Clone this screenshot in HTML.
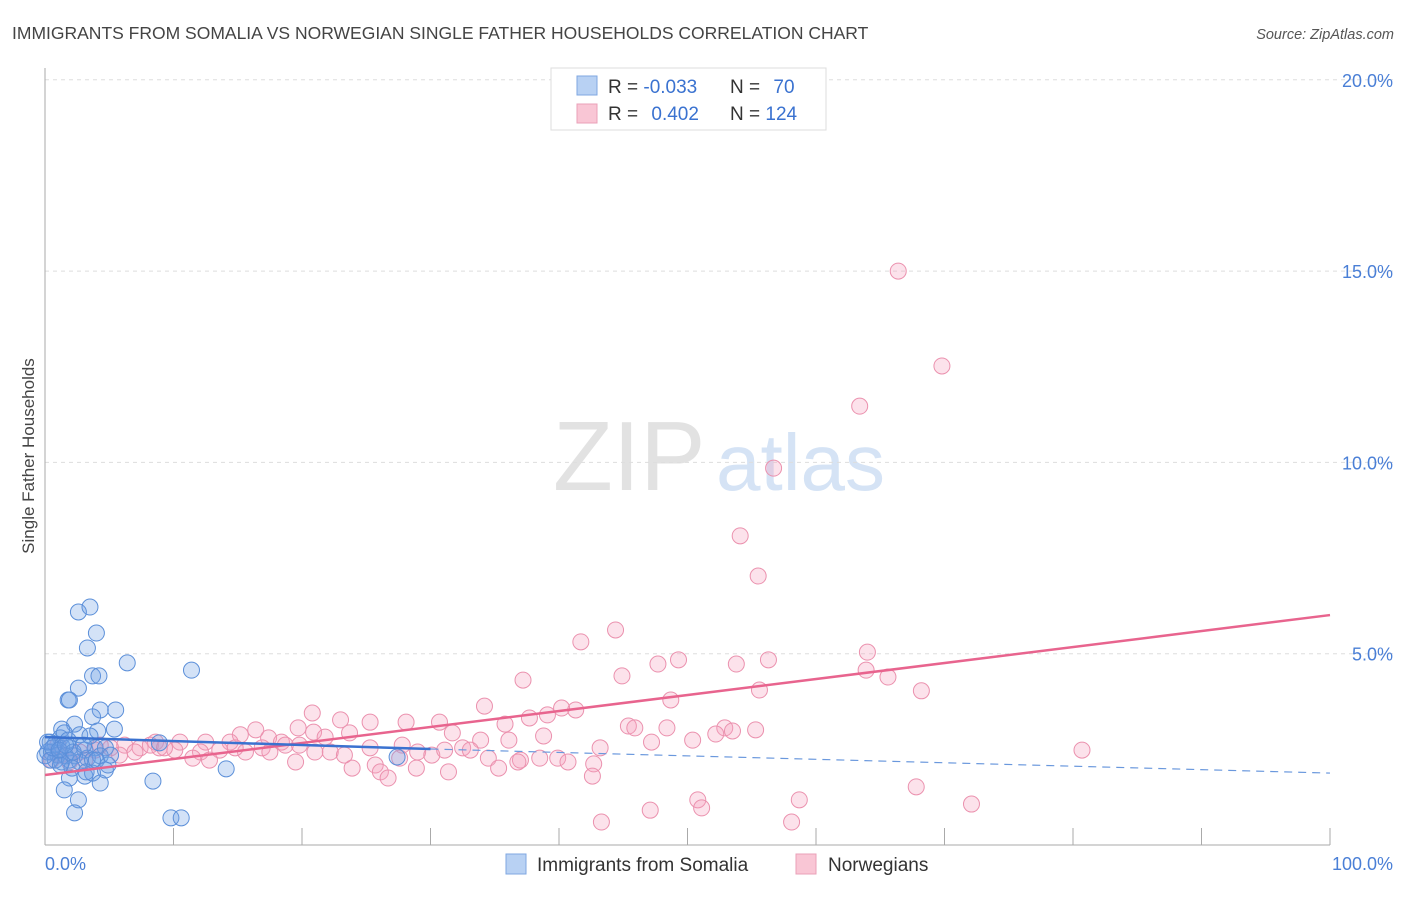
<!DOCTYPE html>
<html><head><meta charset="utf-8"><style>
body{margin:0;background:#fff;font-family:"Liberation Sans",sans-serif}
svg text{font-family:"Liberation Sans",sans-serif}
</style></head><body>
<svg id="chart" width="1406" height="892" viewBox="0 0 1406 892">
<text x="12" y="39" font-size="17.5" fill="#444">IMMIGRANTS FROM SOMALIA VS NORWEGIAN SINGLE FATHER HOUSEHOLDS CORRELATION CHART</text>
<text x="1394" y="39" font-size="14.5" font-style="italic" fill="#555" text-anchor="end">Source: ZipAtlas.com</text>
<g>
<text x="553" y="490" font-size="98" font-family="Liberation Serif" fill="#e2e2e2">ZIP</text>
<text x="716" y="490" font-size="80" fill="#d5e3f5">atlas</text>
</g>
<g id="grid"></g>
<g id="axes"></g>
<text transform="translate(34,456) rotate(-90)" font-size="17" fill="#444" text-anchor="middle">Single Father Households</text>
<g id="pts"></g>
<g id="lines"></g>
<g>
<rect x="551" y="68" width="275" height="62" fill="#fff" stroke="#ddd"/>
<rect x="577" y="76" width="20" height="19" fill="#b8d1f3" stroke="#7fa7e2"/>
<rect x="577" y="104" width="20" height="19" fill="#f9c6d5" stroke="#eaa0b8"/>
<text x="608" y="93" font-size="19" fill="#333">R = <tspan fill="#3a72d0">-0.033</tspan></text>
<text x="730" y="93" font-size="19" fill="#333">N = <tspan fill="#3a72d0" dx="8">70</tspan></text>
<text x="608" y="120" font-size="19" fill="#333">R = <tspan fill="#3a72d0" dx="8">0.402</tspan></text>
<text x="730" y="120" font-size="19" fill="#333">N = <tspan fill="#3a72d0">124</tspan></text>
</g>
<g>
<rect x="506" y="854" width="20" height="20" fill="#b8d1f3" stroke="#7fa7e2"/>
<text x="537" y="871" font-size="19" fill="#333">Immigrants from Somalia</text>
<rect x="796" y="854" width="20" height="20" fill="#f9c6d5" stroke="#eaa0b8"/>
<text x="828" y="871" font-size="19" fill="#333">Norwegians</text>
</g>
</svg>
<script>
const yTicks=[5,10,15,20];
const yTickLabels=["5.0%","10.0%","15.0%","20.0%"];
const xTicks=[0,10,20,30,40,50,60,70,80,90,100];
const xEndLabels=["0.0%","100.0%"];
const blueX=[2.6,3.5,4.0,3.3,6.4,11.4,3.7,4.2,2.6,1.8,1.9,5.5,4.3,3.7,2.3,1.3,5.4,4.1,1.2,2.7,3.5,0.4,0.8,1.3,1.9,3.1,3.9,4.7,0.2,0.5,1.0,1.6,2.3,3.3,4.3,0.8,1.3,1.9,2.7,3.7,0,0.4,8.9,14.1,8.4,1.9,3.1,3.7,4.0,2.1,4.3,2.6,2.3,9.8,10.6,1.5,3.2,1.2,4.7,27.4,1.5,1.8,2.2,0.2,0.6,3.0,4.9,1.1,1.6,5.1];
const blueY=[6.09,6.22,5.54,5.15,4.76,4.57,4.42,4.42,4.10,3.79,3.79,3.53,3.53,3.35,3.16,3.03,3.03,2.98,2.80,2.88,2.85,2.69,2.64,2.59,2.54,2.48,2.54,2.54,2.43,2.43,2.35,2.33,2.33,2.27,2.33,2.22,2.17,2.22,2.17,2.22,2.33,2.22,2.67,1.99,1.67,1.75,1.80,1.88,2.22,2.01,1.62,1.18,0.84,0.71,0.71,1.44,1.91,2.09,1.96,2.30,2.93,2.74,2.43,2.69,2.54,2.61,2.09,2.48,2.61,2.35];
const pinkX=[66.4,69.8,63.4,56.7,54.1,55.5,44.4,41.7,64.0,49.3,47.7,53.8,56.3,44.9,63.9,65.6,37.2,55.6,68.2,48.7,34.2,20.8,40.2,39.1,37.7,41.3,28.1,19.7,23.0,25.3,30.7,35.8,45.4,48.4,45.9,52.9,53.5,55.3,31.7,38.8,33.9,36.1,50.4,52.2,47.2,17.4,15.2,16.4,20.9,23.7,21.8,18.4,12.5,10.5,8.6,7.4,6.2,5.1,14.4,43.2,80.7,32.5,33.1,29.0,27.8,25.3,16.9,13.6,12.1,10.1,8.9,7.0,3.9,2.7,1.2,19.5,12.8,11.5,25.7,27.6,30.1,34.5,37.0,38.5,39.9,40.7,42.7,31.4,36.8,35.3,23.9,26.1,26.7,28.9,42.6,50.8,51.1,58.7,67.8,72.1,47.1,43.3,58.1,22.2,23.3,15.6,17.5,19.8,5.8,4.3,1.9,1.0,0.5,3.1,8.2,9.3,14.8,18.7,21.0,31.1];
const pinkY=[15.00,12.52,11.47,9.85,8.08,7.03,5.62,5.31,5.04,4.84,4.73,4.73,4.84,4.42,4.57,4.39,4.31,4.05,4.03,3.79,3.63,3.45,3.58,3.40,3.32,3.53,3.21,3.06,3.27,3.21,3.21,3.16,3.11,3.06,3.06,3.06,2.98,3.01,2.93,2.85,2.74,2.74,2.74,2.90,2.69,2.80,2.88,3.01,2.95,2.93,2.82,2.69,2.69,2.69,2.69,2.54,2.61,2.54,2.69,2.54,2.48,2.54,2.48,2.43,2.61,2.54,2.54,2.48,2.43,2.48,2.54,2.43,2.48,2.43,2.35,2.17,2.22,2.27,2.09,2.27,2.35,2.27,2.22,2.27,2.27,2.17,2.12,1.91,2.17,2.01,2.01,1.91,1.75,2.01,1.80,1.18,0.97,1.18,1.52,1.07,0.91,0.60,0.60,2.43,2.35,2.43,2.43,2.61,2.35,2.61,2.17,2.61,2.22,2.22,2.61,2.54,2.54,2.61,2.43,2.48];
const blueTrendX=[0,30,100];
const blueTrendY=[2.82,2.51,1.88];
const pinkTrendX=[0,100];
const pinkTrendY=[1.83,6.01];

const X0=45,X1=1330,Y0=845,YPER=38.26;
const sx=v=>X0+(X1-X0)*v/100;
const sy=v=>Y0-v*YPER;
const NS="http://www.w3.org/2000/svg";
function mk(tag,attrs,parent){const e=document.createElementNS(NS,tag);for(const k in attrs)e.setAttribute(k,attrs[k]);parent.appendChild(e);return e;}
const grid=document.getElementById('grid'),axes=document.getElementById('axes'),pts=document.getElementById('pts'),lines=document.getElementById('lines');
yTicks.forEach((t,i)=>{
  const l=mk('line',{x1:X0,x2:1394,y1:sy(t),y2:sy(t),stroke:'#ddd','stroke-dasharray':'4,4'},grid);
  
  
  const tx=mk('text',{x:1393,y:sy(t)+7,'font-size':18,fill:'#4a7fd6','text-anchor':'end'},axes);
  tx.textContent=yTickLabels[i];
  
  
});
const ya=mk('line',{x1:X0,x2:X0,y1:68,y2:Y0,stroke:'#aaa'},axes);


const xa=mk('line',{x1:X0,x2:X1,y1:Y0,y2:Y0,stroke:'#aaa'},axes);


xTicks.forEach(t=>{
  const l=mk('line',{x1:sx(t),x2:sx(t),y1:828,y2:Y0,stroke:'#aaa'},axes);
  
  
});
const xl0=mk('text',{x:45,y:870,'font-size':18,fill:'#4a7fd6'},axes);xl0.textContent=xEndLabels[0];


const xl1=mk('text',{x:1393,y:870,'font-size':18,fill:'#4a7fd6','text-anchor':'end'},axes);xl1.textContent=xEndLabels[1];


pinkX.forEach((x,i)=>{
  const c=mk('circle',{cx:sx(x),cy:sy(pinkY[i]),r:8,fill:'rgba(244,160,188,0.3)',stroke:'#eb91ae','stroke-width':1},pts);
  
  
});
blueX.forEach((x,i)=>{
  const c=mk('circle',{cx:sx(x),cy:sy(blueY[i]),r:8,fill:'rgba(110,160,230,0.3)',stroke:'#5b8fd9','stroke-width':1},pts);
  
  
});
const pt=mk('line',{x1:sx(pinkTrendX[0]),y1:sy(pinkTrendY[0]),x2:sx(pinkTrendX[1]),y2:sy(pinkTrendY[1]),stroke:'#e8648e','stroke-width':2.5},lines);


const bt=mk('line',{x1:sx(blueTrendX[0]),y1:sy(blueTrendY[0]),x2:sx(blueTrendX[1]),y2:sy(blueTrendY[1]),stroke:'#3a72d0','stroke-width':2.5},lines);


const bd=mk('line',{x1:sx(blueTrendX[1]),y1:sy(blueTrendY[1]),x2:sx(blueTrendX[2]),y2:sy(blueTrendY[2]),stroke:'#6a98dd','stroke-width':1.2,'stroke-dasharray':'8,6'},lines);


</script>
</body></html>
